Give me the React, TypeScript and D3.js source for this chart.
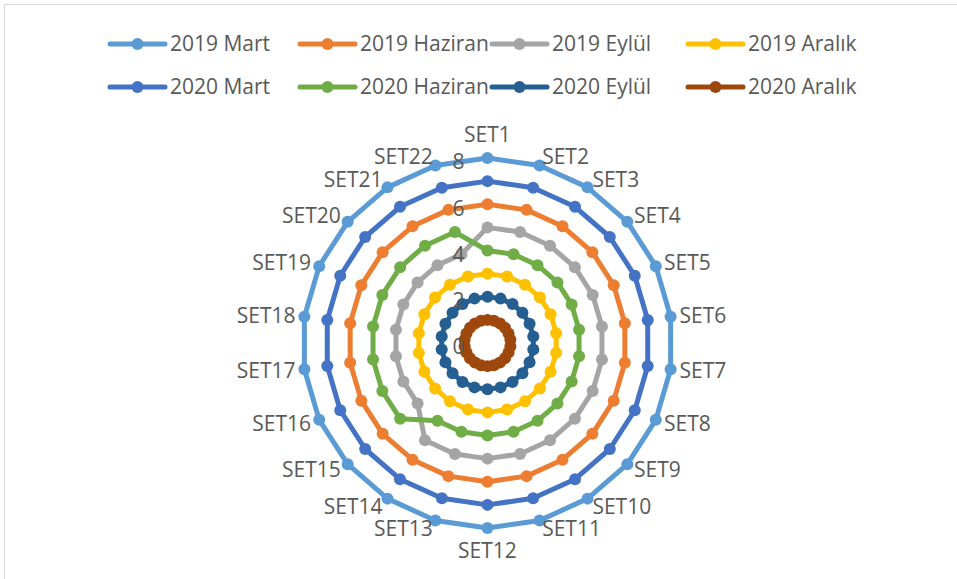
import React from 'react';
import * as d3 from 'd3';

const categories = ["SET1","SET2","SET3","SET4","SET5","SET6","SET7","SET8","SET9","SET10","SET11","SET12","SET13","SET14","SET15","SET16","SET17","SET18","SET19","SET20","SET21","SET22"];
const seriesNames = ["2019 Mart","2019 Haziran","2019 Eylül","2019 Aralık","2020 Mart","2020 Haziran","2020 Eylül","2020 Aralık"];
const seriesColors = ["#5B9BD5","#ED7D31","#A5A5A5","#FFC000","#4472C4","#70AD47","#255E91","#9E480E"];

const mart2019 = [8,8,8,8,8,8,8,8,8,8,8,8,8,8,8,8,8,8,8,8,8,8];
const haziran2019 = [6,6,6,6,6,6,6,6,6,6,6,6,6,6,6,6,6,6,6,6,6,6];
const eylul2019 = [5,5,5,5,5,5,5,5,5,5,5,5,5,5,4,4,4,4,4,4,4,4];
const aralik2019 = [3,3,3,3,3,3,3,3,3,3,3,3,3,3,3,3,3,3,3,3,3,3];
const mart2020 = [7,7,7,7,7,7,7,7,7,7,7,7,7,7,7,7,7,7,7,7,7,7];
const haziran2020 = [4,4,4,4,4,4,4,4,4,4,4,4,4,4,5,5,5,5,5,5,5,5];
const eylul2020 = [2,2,2,2,2,2,2,2,2,2,2,2,2,2,2,2,2,2,2,2,2,2];
const aralik2020 = [1,1,1,1,1,1,1,1,1,1,1,1,1,1,1,1,1,1,1,1,1,1];

const seriesValues = [mart2019, haziran2019, eylul2019, aralik2019, mart2020, haziran2020, eylul2020, aralik2020];
const valueTicks = [0, 2, 4, 6, 8];

const FONT = "'Open Sans', 'Noto Sans', sans-serif";
const TEXT = "#595959";

export default function App() {
  const W = 957, H = 579;
  const cx = 487.5, cy = 343, R = 185;
  const r = d3.scaleLinear().domain([0, 8]).range([0, R]);
  const ang = d3.scaleLinear().domain([0, categories.length]).range([0, 2 * Math.PI]);
  const line = d3.lineRadial<number>()
    .angle((_, i) => ang(i))
    .radius(d => r(d))
    .curve(d3.curveLinearClosed);
  const fs = 21;
  const MR = 6, LW = 5;

  const legendCols = [110, 300, 492, 688];
  const legendRows = [44, 87];

  return (
    <svg width={W} height={H} style={{ position: 'absolute', left: 0, top: 0, background: '#fff' }}>
      <rect x={4.5} y={4.5} width={1000} height={1000} fill="#fff" stroke="#D9D9D9" strokeWidth={1} />
      {/* legend */}
      {seriesNames.map((name, k) => {
        const col = k % 4, row = Math.floor(k / 4);
        const x0 = legendCols[col], y0 = legendRows[row];
        return (
          <g key={name}>
            <line x1={x0} x2={x0 + 55} y1={y0} y2={y0} stroke={seriesColors[k]} strokeWidth={LW} strokeLinecap="round" />
            <circle cx={x0 + 27.5} cy={y0} r={MR} fill={seriesColors[k]} />
            <text x={x0 + 60} y={y0} dy="0.35em" fontFamily={FONT} fontSize={fs} fill={TEXT}>{name}</text>
          </g>
        );
      })}
      {/* series */}
      <g transform={`translate(${cx},${cy})`}>
        {seriesValues.map((vals, k) => (
          <g key={k}>
            <path d={line(vals) || ''} fill="none" stroke={seriesColors[k]} strokeWidth={LW} strokeLinejoin="round" />
            {vals.map((v, i) => (
              <circle key={i} cx={r(v) * Math.sin(ang(i))} cy={-r(v) * Math.cos(ang(i))} r={MR} fill={seriesColors[k]} />
            ))}
          </g>
        ))}
      </g>
      {/* value axis labels */}
      {valueTicks.map(t => (
        <text key={t} x={cx - 23} y={cy - r(t) + 4} dy="0.35em" textAnchor="end" fontFamily={FONT} fontSize={fs} fill={TEXT}>{t}</text>
      ))}
      {/* category labels */}
      {categories.map((c, i) => {
        const a = ang(i);
        const s = Math.sin(a), co = Math.cos(a);
        const rr = R + 9;
        let x = cx + rr * s;
        let y = cy - rr * co;
        let anchor: 'start' | 'end' | 'middle' = 'middle';
        if (s > 0.1) anchor = 'start';
        else if (s < -0.1) anchor = 'end';
        else y -= Math.sign(co) * 14;
        return (
          <text key={c} x={x} y={y} dy="0.35em" textAnchor={anchor} fontFamily={FONT} fontSize={fs} fill={TEXT}>{c}</text>
        );
      })}
    </svg>
  );
}
